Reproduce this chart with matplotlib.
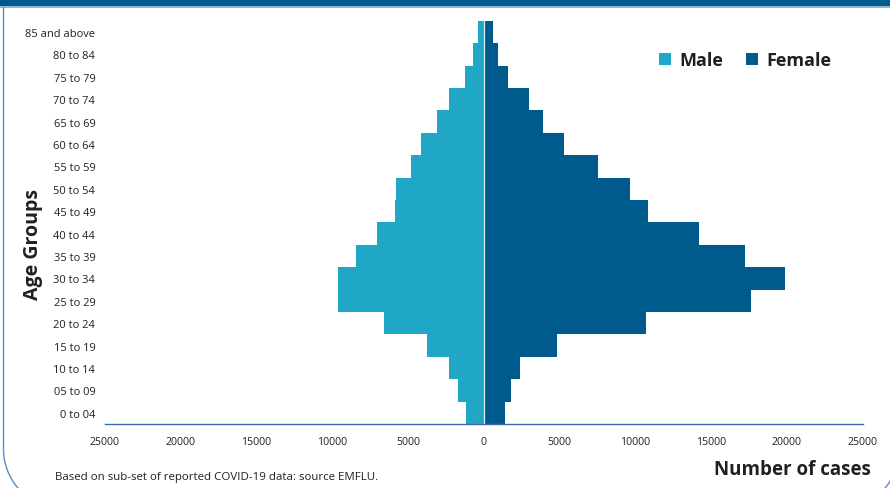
import matplotlib
matplotlib.use("Agg")
import matplotlib.pyplot as plt
from matplotlib.patches import Rectangle
import numpy as np

age_groups = ["0 to 04", "05 to 09", "10 to 14", "15 to 19", "20 to 24", "25 to 29",
              "30 to 34", "35 to 39", "40 to 44", "45 to 49", "50 to 54", "55 to 59",
              "60 to 64", "65 to 69", "70 to 74", "75 to 79", "80 to 84", "85 and above"]
male = [1140, 1670, 2290, 3720, 6570, 9640, 9590, 8440, 7030, 5860, 5800, 4800,
        4120, 3100, 2300, 1250, 680, 410]
female = [1420, 1820, 2410, 4830, 10720, 17630, 19890, 17270, 14240, 10810, 9670, 7510,
          5330, 3930, 2980, 1620, 940, 580]
x_ticks = [-25000, -20000, -15000, -10000, -5000, 0, 5000, 10000, 15000, 20000, 25000]
x_tick_labels = ["25000", "20000", "15000", "10000", "5000", "0",
                 "5000", "10000", "15000", "20000", "25000"]

male_color = "#1FA7C5"
female_color = "#005B8D"
text_color = "#231F20"
frame_color = "#5B8EC2"
font = ["Open Sans", "DejaVu Sans"]
plt.rcParams["font.family"] = font

W, H = 890, 489
fig = plt.figure(figsize=(W / 100, H / 100), dpi=100)

# background overlay axes in pixel coordinates (y downwards) for frame and banner
bg = fig.add_axes([0, 0, 1, 1])
bg.set_xlim(0, W)
bg.set_ylim(H, 0)
bg.axis("off")
r = 60.0
theta = np.linspace(0, np.pi / 2, 60)
# left side with bottom-left rounded corner
lx = np.concatenate([[3.5, 3.5], (3.5 + r) - r * np.cos(theta)])
ly = np.concatenate([[8, 450], 450 + r * np.sin(theta)])
bg.plot(lx, ly, color=frame_color, linewidth=1.0, solid_capstyle="butt")
# right side with bottom-right rounded corner (mostly off-canvas)
rx = np.concatenate([[899.5, 899.5], (899.5 - r) + r * np.cos(theta)])
ry = np.concatenate([[8, 450], 450 + r * np.sin(theta)])
bg.plot(rx, ry, color=frame_color, linewidth=1.0, solid_capstyle="butt")
bg.add_patch(Rectangle((0, 0), W, 7, facecolor=female_color, edgecolor="none"))
bg.add_patch(Rectangle((0, 7), W, 1.5, facecolor="#8FB8D8", edgecolor="none"))

ax = fig.add_axes([105 / W, 1 - 425 / H, (862.5 - 105) / W, (425 - 21.8) / H])
y = np.arange(len(age_groups))
ax.barh(y, [-m for m in male], height=1.0, color=male_color,
        edgecolor="none", linewidth=0, label="Male")
ax.barh(y, female, height=1.0, color=female_color,
        edgecolor="none", linewidth=0, label="Female")
ax.axvline(0, color="#DDEFF6", linewidth=0.9)

ax.set_xlim(-25000, 25000)
ax.set_ylim(-0.5, len(age_groups) - 0.5)
ax.set_yticks(y)
ax.set_yticklabels(age_groups, fontsize=8.0, color=text_color)
ax.set_xticks(x_ticks)
ax.set_xticklabels(x_tick_labels, fontsize=7.6, color=text_color)
ax.tick_params(axis="both", length=0)
ax.tick_params(axis="y", pad=7)
ax.tick_params(axis="x", pad=9)
for s in ["top", "right", "left"]:
    ax.spines[s].set_visible(False)
ax.spines["bottom"].set_color("#3E6DAE")
ax.spines["bottom"].set_linewidth(1.0)

fig.text(33 / W, 1 - 245 / H, "Age Groups", fontsize=14, fontweight="bold",
         color=text_color, rotation=90, va="center", ha="center")

leg = ax.legend(loc="upper right", bbox_to_anchor=(0.98, 0.965), frameon=False,
                ncol=2, prop={"size": 13, "weight": "bold"}, handlelength=0.65,
                handleheight=0.65, handletextpad=0.45, columnspacing=1.3)
for t in leg.get_texts():
    t.set_color(text_color)

fig.text(714 / W, 1 - 470 / H, "Number of cases", fontsize=13.5, fontweight="bold",
         color=text_color, va="center", ha="left")
fig.text(55 / W, 1 - 478 / H, "Based on sub-set of reported COVID-19 data: source EMFLU.",
         fontsize=8.25, color=text_color, va="center", ha="left")

fig.savefig("out.png", dpi=100)
